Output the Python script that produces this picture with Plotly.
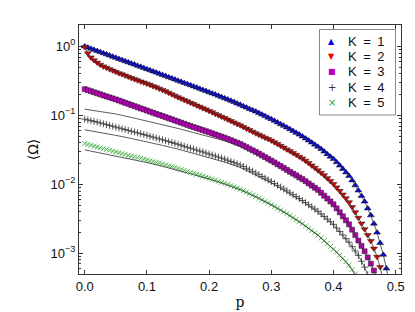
import plotly.graph_objects as go

# ---------------- data ----------------
P = [0.000, 0.005, 0.010, 0.015, 0.020, 0.025, 0.030, 0.035, 0.040, 0.045,
     0.050, 0.055, 0.060, 0.065, 0.070, 0.075, 0.080, 0.085, 0.090, 0.095,
     0.100, 0.105, 0.110, 0.115, 0.120, 0.125, 0.130, 0.135, 0.140, 0.145,
     0.150, 0.155, 0.160, 0.165, 0.170, 0.175, 0.180, 0.185, 0.190, 0.195,
     0.200, 0.205, 0.210, 0.215, 0.220, 0.225, 0.230, 0.235, 0.240, 0.245,
     0.250, 0.255, 0.260, 0.265, 0.270, 0.275, 0.280, 0.285, 0.290, 0.295,
     0.300, 0.305, 0.310, 0.315, 0.320, 0.325, 0.330, 0.335, 0.340, 0.345,
     0.350, 0.355, 0.360, 0.365, 0.370, 0.375, 0.380, 0.385, 0.390, 0.395,
     0.400, 0.405, 0.410, 0.415, 0.420, 0.425, 0.430, 0.435, 0.440, 0.445,
     0.450, 0.455, 0.460, 0.465, 0.470, 0.475, 0.480, 0.485, 0.490]

OMEGA_K1 = [1.000, 0.962, 0.926, 0.892, 0.858, 0.826, 0.796, 0.766, 0.738, 0.710,
            0.684, 0.658, 0.634, 0.610, 0.587, 0.565, 0.544, 0.524, 0.505, 0.485,
            0.468, 0.450, 0.434, 0.417, 0.402, 0.386, 0.372, 0.357, 0.344, 0.331,
            0.318, 0.306, 0.295, 0.284, 0.274, 0.263, 0.253, 0.243, 0.234, 0.225,
            0.216, 0.208, 0.200, 0.192, 0.184, 0.177, 0.170, 0.163, 0.156, 0.149,
            0.143, 0.136, 0.130, 0.124, 0.119, 0.1135, 0.108, 0.1026, 0.0975, 0.0927,
            0.0881, 0.0834, 0.0789, 0.0746, 0.0706, 0.0668, 0.0630, 0.0593, 0.0558, 0.0526,
            0.0495, 0.0462, 0.0432, 0.0403, 0.0376, 0.0351, 0.0324, 0.0298, 0.0274, 0.0252,
            0.0232, 0.0209, 0.0187, 0.0167, 0.0149, 0.0132, 0.0114, 0.00966, 0.00813, 0.00676,
            0.00562, 0.00447, 0.00355, 0.00269, 0.00200, 0.00141, 0.000955, 0.000603, 0.000355]

OMEGA_K2 = [0.977, 0.794, 0.692, 0.631, 0.582, 0.543, 0.513, 0.490, 0.468, 0.447,
            0.427, 0.409, 0.394, 0.378, 0.363, 0.348, 0.335, 0.322, 0.310, 0.299,
            0.288, 0.277, 0.265, 0.255, 0.244, 0.234, 0.223, 0.213, 0.202, 0.193,
            0.183, 0.175, 0.167, 0.160, 0.152, 0.146, 0.139, 0.133, 0.127, 0.122,
            0.116, 0.111, 0.105, 0.1005, 0.0957, 0.0912, 0.0869, 0.0828, 0.0789, 0.0752,
            0.0716, 0.0679, 0.0644, 0.0611, 0.0579, 0.0550, 0.0524, 0.0499, 0.0475, 0.0453,
            0.0432, 0.0407, 0.0385, 0.0362, 0.0341, 0.0321, 0.0303, 0.0285, 0.0268, 0.0252,
            0.0237, 0.0220, 0.0204, 0.0188, 0.0174, 0.0160, 0.0147, 0.0135, 0.0123, 0.0112,
            0.0101, 0.00902, 0.00804, 0.00711, 0.00627, 0.00550, 0.00468, 0.00394, 0.00327, 0.00271,
            0.00224, 0.00184, 0.00151, 0.00117, 0.000891, 0.000631, 0.000398]

OMEGA_K3 = [0.240, 0.232, 0.224, 0.216, 0.209, 0.202, 0.195, 0.188, 0.182, 0.176,
            0.170, 0.164, 0.158, 0.152, 0.147, 0.141, 0.136, 0.131, 0.126, 0.122,
            0.1175, 0.113, 0.109, 0.105, 0.1014, 0.0977, 0.0942, 0.0908, 0.0875, 0.0843,
            0.0813, 0.0783, 0.0755, 0.0728, 0.0701, 0.0676, 0.0653, 0.0631, 0.0610, 0.0589,
            0.0569, 0.0548, 0.0528, 0.0509, 0.0491, 0.0473, 0.0454, 0.0436, 0.0418, 0.0401,
            0.0385, 0.0365, 0.0346, 0.0328, 0.0311, 0.0295, 0.0279, 0.0263, 0.0248, 0.0234,
            0.0221, 0.0208, 0.0195, 0.0184, 0.0173, 0.0162, 0.0152, 0.0143, 0.0135, 0.0126,
            0.0119, 0.0111, 0.0103, 0.00959, 0.00893, 0.00832, 0.00755, 0.00685, 0.00622, 0.00565,
            0.00513, 0.00449, 0.00393, 0.00344, 0.00301, 0.00263, 0.00220, 0.00184, 0.00153, 0.00128,
            0.00107, 0.000871, 0.000708, 0.000562, 0.000427]

OMEGA_K4 = [0.0881, 0.0859, 0.0838, 0.0817, 0.0796, 0.0776, 0.0755, 0.0735, 0.0715, 0.0695,
            0.0676, 0.0658, 0.0640, 0.0622, 0.0605, 0.0589, 0.0573, 0.0557, 0.0542, 0.0527,
            0.0513, 0.0498, 0.0483, 0.0469, 0.0455, 0.0442, 0.0429, 0.0416, 0.0404, 0.0392,
            0.0380, 0.0368, 0.0356, 0.0345, 0.0334, 0.0324, 0.0313, 0.0303, 0.0294, 0.0284,
            0.0275, 0.0266, 0.0257, 0.0248, 0.0240, 0.0232, 0.0223, 0.0214, 0.0206, 0.0198,
            0.0191, 0.0181, 0.0171, 0.0163, 0.0154, 0.0146, 0.0138, 0.0130, 0.0123, 0.0116,
            0.0110, 0.0103, 0.00968, 0.00910, 0.00855, 0.00804, 0.00753, 0.00706, 0.00662, 0.00621,
            0.00582, 0.00542, 0.00505, 0.00470, 0.00438, 0.00407, 0.00373, 0.00342, 0.00313, 0.00287,
            0.00263, 0.00233, 0.00207, 0.00184, 0.00163, 0.00145, 0.00125, 0.00108, 0.000933, 0.000767,
            0.000631, 0.000490]

OMEGA_K5 = [0.0389, 0.0378, 0.0368, 0.0358, 0.0348, 0.0339, 0.0330, 0.0321, 0.0312, 0.0303,
            0.0295, 0.0287, 0.0279, 0.0272, 0.0264, 0.0257, 0.0251, 0.0244, 0.0238, 0.0232,
            0.0226, 0.0220, 0.0214, 0.0208, 0.0203, 0.0197, 0.0191, 0.0186, 0.0180, 0.0175,
            0.0170, 0.0164, 0.0159, 0.0154, 0.0149, 0.0145, 0.0140, 0.0136, 0.0131, 0.0127,
            0.0123, 0.0119, 0.0115, 0.0111, 0.0107, 0.0104, 0.00995, 0.00957, 0.00920, 0.00885,
            0.00851, 0.00811, 0.00773, 0.00736, 0.00702, 0.00668, 0.00632, 0.00598, 0.00566, 0.00536,
            0.00507, 0.00478, 0.00450, 0.00424, 0.00399, 0.00376, 0.00352, 0.00329, 0.00308, 0.00288,
            0.00269, 0.00249, 0.00231, 0.00214, 0.00199, 0.00184, 0.00167, 0.00152, 0.00139, 0.00126,
            0.00115, 0.00104, 0.000933, 0.000841, 0.000759, 0.000676, 0.000582, 0.000501, 0.000417]

# theory curves (thin black lines)
TH_P = [0.000, 0.025, 0.050, 0.075, 0.100, 0.125, 0.150, 0.175, 0.200, 0.225,
        0.250, 0.275, 0.300, 0.325, 0.350, 0.375, 0.400, 0.410, 0.420, 0.430,
        0.440, 0.450, 0.455, 0.460, 0.465, 0.470]
THEORY_K3 = [0.123, 0.1135, 0.1047, 0.0933, 0.0832, 0.0733, 0.0646, 0.0562, 0.0495, 0.0427,
             0.0355, 0.0279, 0.0211, 0.0157, 0.0116, 0.00813, 0.00507, 0.00388, 0.00297, 0.00217,
             0.00152, 0.00107, 0.000871, 0.000708, 0.000562, 0.000427]
THEORY_K4 = [0.0617, 0.0566, 0.0513, 0.0462, 0.0417, 0.0367, 0.0324, 0.0282, 0.0245, 0.0210,
             0.0176, 0.0137, 0.0105, 0.00776, 0.00569, 0.00400, 0.00260, 0.00205, 0.00161, 0.00124,
             0.000923, 0.000624, 0.000484]
THEORY_K5 = [0.0316, 0.0285, 0.0257, 0.0229, 0.0207, 0.0183, 0.0160, 0.0138, 0.0119, 0.0101,
             0.00832, 0.00656, 0.00501, 0.00372, 0.00266, 0.00182, 0.00114, 0.000923, 0.000750, 0.000575,
             0.000412]

X_TICKS = [0.0, 0.1, 0.2, 0.3, 0.4, 0.5]
Y_TICKS = [1, 0.1, 0.01, 0.001]
Y_TICK_TEXT = ["10<sup>0</sup>", "10<sup>\u22121</sup>", "10<sup>\u22122</sup>", "10<sup>\u22123</sup>"]
LEGEND_LABELS = ["K\u2002=\u20021", "K\u2002=\u20022", "K\u2002=\u20023", "K\u2002=\u20024", "K\u2002=\u20025"]

# ---------------- styling ----------------
SERIES = [
    (OMEGA_K1, "triangle-up", "#0000ee", 6),
    (OMEGA_K2, "triangle-down", "#ee0000", 6),
    (OMEGA_K3, "square", "#bb00bb", 5),
    (OMEGA_K4, "cross-thin", "#333333", 5),
    (OMEGA_K5, "x-thin", "#33aa33", 5),
]
LEG_SYMBOLS = ["\u25B2", "\u25BC", "\u25A0", "+", "\u00D7"]

fig = go.Figure()

for (vals, sym, col, sz), lab in zip(SERIES, LEGEND_LABELS):
    thin = sym.endswith("thin")
    fig.add_trace(go.Scatter(
        x=P[:len(vals)], y=vals, mode="markers", name=lab, showlegend=False,
        marker=dict(symbol=sym, size=sz, color=col,
                    line=dict(color=col if thin else "#111111", width=0.8 if thin else 0.5)),
    ))

line_style = dict(color="#333333", width=0.8)
fig.add_trace(go.Scatter(x=P[:len(OMEGA_K1)], y=OMEGA_K1, mode="lines", line=line_style, showlegend=False))
fig.add_trace(go.Scatter(x=P[:len(OMEGA_K2)], y=OMEGA_K2, mode="lines", line=line_style, showlegend=False))
for th in (THEORY_K3, THEORY_K4, THEORY_K5):
    fig.add_trace(go.Scatter(x=TH_P[:len(th)], y=th, mode="lines", line=line_style, showlegend=False))

# ---------------- layout ----------------
W, H = 415, 312
L, R, T, B = 71, 22, 17, 46
pw, ph = W - L - R, H - T - B

def px_x(x):
    return (x - L) / pw

def px_y(y):
    return 1 - (y - T) / ph

minor_vals = [m * 10.0 ** e for e in (-4, -3, -2, -1, 0) for m in range(2, 10)]

fig.update_layout(
    width=W, height=H,
    margin=dict(l=L, r=R, t=T, b=B),
    paper_bgcolor="white", plot_bgcolor="white",
    font=dict(family="Liberation Sans", size=13, color="#111111"),
    showlegend=False,
    xaxis=dict(
        range=[-0.0092, 0.5085], tickvals=X_TICKS, tickformat=".1f",
        ticks="inside", ticklen=4, tickcolor="#333333",
        showline=True, linecolor="#333333", linewidth=1.2, mirror="allticks",
        showgrid=False, zeroline=False,
        title=dict(text="p", font=dict(family="DejaVu Serif", size=14), standoff=4),
    ),
    yaxis=dict(
        type="log", range=[-3.30, 0.31],
        tickvals=Y_TICKS, ticktext=Y_TICK_TEXT,
        ticks="inside", ticklen=4, tickcolor="#333333",
        minor=dict(tickvals=minor_vals, ticks="inside", ticklen=2, tickcolor="#333333"),
        showline=True, linecolor="#333333", linewidth=1.2, mirror="allticks",
        showgrid=False, zeroline=False,
        title=dict(text="\u27E8\u03A9\u27E9", font=dict(family="DejaVu Sans", size=14), standoff=8),
    ),
)

# legend box (drawn as shape + text rows)
fig.add_shape(type="rect", xref="paper", yref="paper",
              x0=px_x(311.5), x1=px_x(387.5), y0=px_y(107), y1=px_y(21.5),
              line=dict(color="#888888", width=1), fillcolor="white", layer="above")

row_y = [33.3, 48.6, 63.9, 79.2, 94.5]
sym_sizes = [8, 8, 8, 10, 10]
for (vals, sym, col, sz), lab, ls, yy, ss in zip(SERIES, LEGEND_LABELS, LEG_SYMBOLS, row_y, sym_sizes):
    fig.add_annotation(xref="paper", yref="paper", x=px_x(323.5), y=px_y(yy),
                       text=ls, showarrow=False, xanchor="center", yanchor="middle",
                       font=dict(size=ss, color=col, family="DejaVu Sans"))
    fig.add_annotation(xref="paper", yref="paper", x=px_x(338), y=px_y(yy),
                       text=lab, showarrow=False, xanchor="left", yanchor="middle",
                       font=dict(size=13, color="#111111", family="Liberation Sans"))

fig.write_html("out.html")
